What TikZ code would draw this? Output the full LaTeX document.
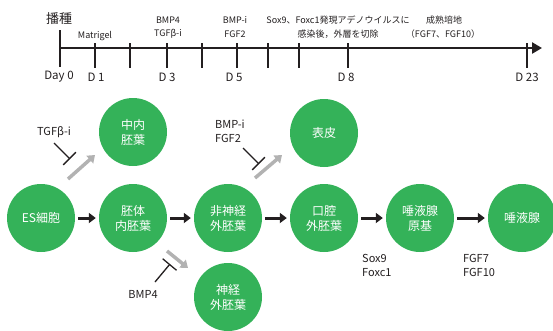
\documentclass[tikz,border=0pt]{standalone}
\usepackage{fontspec}
\setmainfont{Noto Sans CJK JP}
\usetikzlibrary{arrows.meta}
\definecolor{cgreen}{RGB}{52,178,89}
\definecolor{cgray}{RGB}{178,178,178}
\definecolor{cdark}{RGB}{35,31,32}
\begin{document}
\begin{tikzpicture}[x=1pt,y=-1pt,
  cell/.style={circle, fill=cgreen, minimum size=68pt, inner sep=0pt, text=white, font=\fontsize{12}{15}\selectfont, align=center},
  blackarr/.style={draw=cdark, line width=3pt, shorten <=3pt, shorten >=3pt, -{Triangle[length=7pt,width=10pt]}},
  grayarr/.style={draw=cgray, line width=3.5pt, -{Triangle[length=7pt,width=10pt]}},
  inhib/.style={draw=cdark, line width=1.3pt, -{Bar[width=18pt,line width=1.3pt]}},
  lbl/.style={font=\fontsize{11}{14}\selectfont, text=cdark, inner sep=0pt, align=left},
  small/.style={font=\fontsize{9}{11}\selectfont, text=cdark, inner sep=0pt},
  daylbl/.style={font=\fontsize{11.5}{14}\selectfont, text=cdark, inner sep=0pt},
  tick/.style={draw=cdark, line width=2.5pt},
  axis/.style={draw=cdark, line width=2.8pt, -{Triangle[length=10pt,width=11pt]}}]
\useasboundingbox (0,0) rectangle (553,330);
\clip (0,0) rectangle (553,330);

% ---------- timeline ----------
\coordinate (t0) at (60,48);
\coordinate (tend) at (542,48);
\draw[axis] (t0) -- (tend);
\coordinate (d0top) at (60,30);
\coordinate (d0bot) at (60,67);
\draw[draw=cdark, line width=1.6pt] (d0top) -- (d0bot);
\foreach \x/\n in {95/a,130/b,167/c,202/d,237/e,268/f,299/g,348/h,527/i}{
  \coordinate (tk\n top) at (\x,43);
  \coordinate (tk\n bot) at (\x,68);
  \draw[tick] (tk\n top) -- (tk\n bot);
}
\node[font=\fontsize{13}{15}\selectfont, text=cdark, inner sep=0pt] (sow) at (59,19) {播種};
\node[daylbl] (day0) at (59,77) {Day 0};
\node[daylbl] (day1) at (96,77) {D 1};
\node[daylbl] (day3) at (167,77) {D 3};
\node[daylbl] (day5) at (234,77) {D 5};
\node[daylbl] (day8) at (346,77) {D 8};
\node[daylbl] (day23) at (527,77) {D 23};

\node[small] (matri) at (95,36) {Matrigel};
\node[small] (bmp4t) at (168,20) {BMP4};
\node[small] (tgft) at (168,34) {TGFβ-i};
\node[small] (bmpit) at (235,20) {BMP-i};
\node[small] (fgf2t) at (235,34) {FGF2};
\node[small] (adeno) at (338,20) {Sox9、Foxc1発現アデノウイルスに};
\node[small] (kanse) at (338,34) {感染後，外層を切除};
\node[small] (seiju) at (444,20) {成熟培地};
\node[small] (fgfs) at (443,34) {（FGF7、FGF10）};

% ---------- cells ----------
\node[cell] (es) at (41,218) {ES細胞};
\node[cell] (de) at (133,218) {胚体\\内胚葉};
\node[cell] (me) at (133,132) {中内\\胚葉};
\node[cell] (ne) at (228,218) {非神経\\外胚葉};
\node[cell] (nu) at (228,297) {神経\\外胚葉};
\node[cell] (ep) at (324,133) {表皮};
\node[cell] (oe) at (324,218) {口腔\\外胚葉};
\node[cell] (sp) at (420,218) {唾液腺\\原基};
\node[cell] (sg) at (522,218) {唾液腺};

% ---------- main arrows ----------
\draw[blackarr] (es) -- (de);
\draw[blackarr] (de) -- (ne);
\draw[blackarr] (ne) -- (oe);
\draw[blackarr] (oe) -- (sp);
\draw[blackarr] (sp) -- (sg);

% ---------- side (grey) arrows ----------
\coordinate (g1s) at (68,179);
\coordinate (g1e) at (95,155);
\draw[grayarr] (g1s) -- (g1e);
\coordinate (g2s) at (255,178);
\coordinate (g2e) at (282,155);
\draw[grayarr] (g2s) -- (g2e);
\coordinate (g3s) at (167,251);
\coordinate (g3e) at (188,268);
\draw[grayarr] (g3s) -- (g3e);

% ---------- inhibitors ----------
\node[lbl] (tgf) at (54,132) {TGFβ-i};
\coordinate (i1s) at (54,143);
\coordinate (i1e) at (70,159);
\draw[inhib] (i1s) -- (i1e);

\node[lbl, anchor=west] (bmpi) at (215,131.5) {BMP-i\\FGF2};
\coordinate (i2s) at (243,148);
\coordinate (i2e) at (259,164);
\draw[inhib] (i2s) -- (i2e);

\node[lbl] (bmp4) at (143,294) {BMP4};
\coordinate (i3s) at (155,282);
\coordinate (i3e) at (170,264);
\draw[inhib] (i3s) -- (i3e);

\node[lbl, anchor=west] (sox) at (362,265.5) {Sox9\\Foxc1};
\node[lbl, anchor=west] (fgf) at (463,265.5) {FGF7\\FGF10};
\end{tikzpicture}
\end{document}
